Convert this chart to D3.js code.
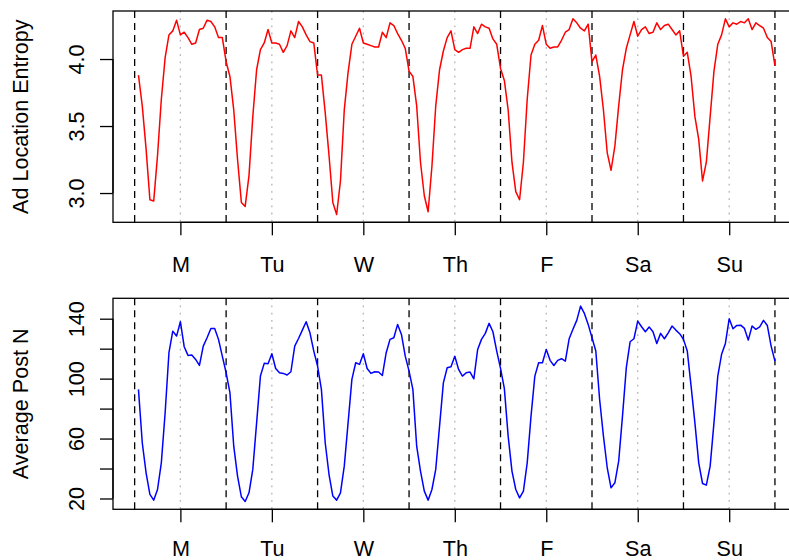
<!DOCTYPE html>
<html>
<head>
<meta charset="utf-8">
<script src="https://cdn.jsdelivr.net/npm/d3@7"></script>
<style>
  body { margin: 0; background: #fff; }
  svg { display: block; font-family: "Liberation Sans", Arial, sans-serif; }
</style>
</head>
<body>
<div id="chart"></div>
<script>
// hourly values, Monday 1h .. Sunday 24h
const dayLabels = ["M", "Tu", "W", "Th", "F", "Sa", "Su"];

const entropy = [
  3.88, 3.65, 3.33, 2.95, 2.94, 3.28, 3.70, 4.01, 4.18, 4.21, 4.29, 4.18, 4.20, 4.16, 4.11, 4.12, 4.22, 4.23, 4.29, 4.28, 4.24, 4.16, 4.16, 3.98,
  3.87, 3.62, 3.25, 2.93, 2.90, 3.13, 3.57, 3.92, 4.07, 4.12, 4.22, 4.12, 4.12, 4.11, 4.05, 4.10, 4.21, 4.16, 4.28, 4.24, 4.18, 4.13, 4.12, 3.88,
  3.88, 3.60, 3.28, 2.93, 2.84, 3.09, 3.62, 3.90, 4.11, 4.17, 4.23, 4.12, 4.11, 4.10, 4.09, 4.09, 4.20, 4.16, 4.27, 4.25, 4.19, 4.14, 4.08, 3.91,
  3.87, 3.65, 3.23, 2.98, 2.86, 3.20, 3.65, 3.92, 4.06, 4.16, 4.21, 4.07, 4.05, 4.07, 4.08, 4.08, 4.24, 4.19, 4.26, 4.24, 4.23, 4.15, 4.11, 3.93,
  3.84, 3.62, 3.23, 3.01, 2.95, 3.23, 3.70, 4.03, 4.11, 4.14, 4.25, 4.11, 4.08, 4.09, 4.09, 4.14, 4.20, 4.22, 4.30, 4.27, 4.23, 4.21, 4.26, 3.98,
  4.03, 3.87, 3.62, 3.30, 3.17, 3.35, 3.65, 3.92, 4.08, 4.18, 4.28, 4.17, 4.22, 4.24, 4.19, 4.20, 4.27, 4.22, 4.25, 4.26, 4.22, 4.18, 4.21, 4.02,
  4.05, 3.87, 3.57, 3.40, 3.09, 3.23, 3.57, 3.91, 4.11, 4.18, 4.30, 4.24, 4.27, 4.26, 4.28, 4.27, 4.30, 4.22, 4.27, 4.25, 4.23, 4.16, 4.13, 3.95
];

const avgPosts = [
  92.8, 57.2, 37.1, 22.7, 18.9, 26.0, 43.8, 77.2, 117.3, 131.7, 128.4, 138.0, 121.3, 115.5, 115.7, 112.8, 108.8, 121.7, 127.3, 133.5, 133.5, 126.2, 115.0, 103.9,
  90.6, 54.9, 34.9, 21.1, 18.0, 23.8, 39.4, 70.5, 101.7, 110.2, 109.9, 116.6, 106.8, 103.9, 103.5, 102.4, 104.6, 121.7, 126.8, 132.4, 138.0, 130.6, 118.4, 108.4,
  92.8, 57.2, 36.0, 21.6, 18.9, 23.8, 41.6, 70.5, 99.5, 110.6, 109.5, 116.6, 106.8, 103.5, 104.6, 104.4, 102.1, 117.3, 126.2, 127.3, 136.2, 129.5, 115.0, 105.0,
  92.8, 54.9, 38.3, 24.9, 18.9, 26.0, 39.4, 68.3, 97.2, 107.3, 107.9, 115.0, 106.1, 101.7, 103.9, 104.4, 99.9, 119.5, 126.2, 130.2, 136.9, 131.3, 118.4, 106.8,
  93.5, 61.6, 38.3, 26.0, 20.4, 24.9, 43.8, 75.0, 101.7, 110.6, 110.6, 119.5, 112.2, 108.8, 112.2, 113.3, 111.7, 126.6, 132.9, 138.9, 148.4, 143.5, 136.2, 127.3,
  118.4, 86.1, 61.6, 40.5, 27.1, 30.5, 44.9, 75.0, 107.3, 124.6, 126.6, 138.4, 134.6, 131.3, 134.4, 131.3, 123.5, 130.2, 126.6, 130.6, 135.1, 132.4, 130.0, 126.2,
  118.4, 95.0, 70.5, 43.8, 30.0, 28.9, 41.6, 70.5, 101.7, 116.2, 123.5, 140.0, 133.3, 135.5, 135.7, 133.5, 125.7, 135.1, 132.9, 134.6, 138.9, 135.5, 121.7, 111.7
];

const entropyTicks = [3.0, 3.5, 4.0];
const postTicks = [20, 40, 60, 80, 100, 120, 140];
const postLabelTicks = [20, 60, 100, 140];

const width = 789, height = 560;
const fontSize = 21.6;
const tickLen = 13;

const svg = d3.select("#chart").append("svg")
  .attr("width", width)
  .attr("height", height);

const n = entropy.length;
const hours = d3.range(1, n + 1);
const dayStarts = d3.range(0, n + 1, 24);
const noons = d3.range(12, n, 24);

// R style 4% padding on both ends
function padded(lo, hi) {
  const r = hi - lo;
  return [lo - 0.04 * r, hi + 0.04 * r];
}

const x = d3.scaleLinear()
  .domain(padded(1, n))
  .range([113, 800.4]);

function drawPanel(top, h, values, color, ticks, labelTicks, title, fmt, labelPad) {
  const g = svg.append("g").attr("transform", `translate(0,${top})`);
  const y = d3.scaleLinear()
    .domain(padded(d3.min(values), d3.max(values)))
    .range([h, 0]);

  const x0 = x.range()[0], x1 = x.range()[1];

  g.selectAll(".noon")
    .data(noons)
    .enter().append("line")
    .attr("x1", d => x(d)).attr("x2", d => x(d))
    .attr("y1", 0).attr("y2", h)
    .attr("stroke", "#b5b5b5")
    .attr("stroke-width", 1.3)
    .attr("stroke-dasharray", "1.8,5.4");

  g.selectAll(".day")
    .data(dayStarts)
    .enter().append("line")
    .attr("x1", d => x(d)).attr("x2", d => x(d))
    .attr("y1", 0).attr("y2", h)
    .attr("stroke", "#000")
    .attr("stroke-width", 1.3)
    .attr("stroke-dasharray", "7,5");

  const line = d3.line()
    .x((d, i) => x(hours[i]))
    .y(d => y(d));

  g.append("path")
    .datum(values)
    .attr("fill", "none")
    .attr("stroke", color)
    .attr("stroke-width", 1.5)
    .attr("stroke-linejoin", "round")
    .attr("d", line);

  g.append("rect")
    .attr("x", x0).attr("y", 0)
    .attr("width", x1 - x0).attr("height", h)
    .attr("fill", "none")
    .attr("stroke", "#000")
    .attr("stroke-width", 1.3);

  // x axis
  const xAxis = g.append("g")
    .attr("transform", `translate(0,${h})`)
    .call(d3.axisBottom(x)
      .tickValues(noons)
      .tickFormat((d, i) => dayLabels[i])
      .tickSize(tickLen)
      .tickSizeOuter(0)
      .tickPadding(labelPad));
  xAxis.select(".domain").remove();
  xAxis.append("line")
    .attr("x1", x(noons[0])).attr("x2", x(noons[noons.length - 1]))
    .attr("stroke", "#000").attr("stroke-width", 1.3);
  xAxis.selectAll(".tick line").attr("stroke-width", 1.3);
  xAxis.selectAll("text")
    .attr("fill", "#000")
    .style("font-size", fontSize + "px")
    .style("font-family", "Liberation Sans, Arial, sans-serif");

  // y axis
  const yAxis = g.append("g")
    .attr("transform", `translate(${x0},0)`)
    .call(d3.axisLeft(y)
      .tickValues(ticks)
      .tickFormat(d => labelTicks.includes(d) ? fmt(d) : "")
      .tickSize(tickLen)
      .tickSizeOuter(0));
  yAxis.select(".domain").remove();
  yAxis.append("line")
    .attr("y1", y(ticks[0])).attr("y2", y(ticks[ticks.length - 1]))
    .attr("stroke", "#000").attr("stroke-width", 1.3);
  yAxis.selectAll(".tick line").attr("stroke-width", 1.3);
  yAxis.selectAll("text")
    .attr("x", null)
    .attr("dy", null)
    .attr("transform", "translate(-29,0) rotate(-90)")
    .attr("text-anchor", "middle")
    .attr("fill", "#000")
    .style("font-size", fontSize + "px")
    .style("font-family", "Liberation Sans, Arial, sans-serif");

  g.append("text")
    .attr("transform", `translate(28,${h / 2}) rotate(-90)`)
    .attr("text-anchor", "middle")
    .style("font-size", fontSize + "px")
    .text(title);
}

drawPanel(11, 211.3, entropy, "#ff0000", entropyTicks, entropyTicks,
  "Ad Location Entropy", d3.format(".1f"), 21);
drawPanel(298.3, 211, avgPosts, "#0000ff", postTicks, postLabelTicks,
  "Average Post N", d3.format("d"), 18.5);
</script>
</body>
</html>
